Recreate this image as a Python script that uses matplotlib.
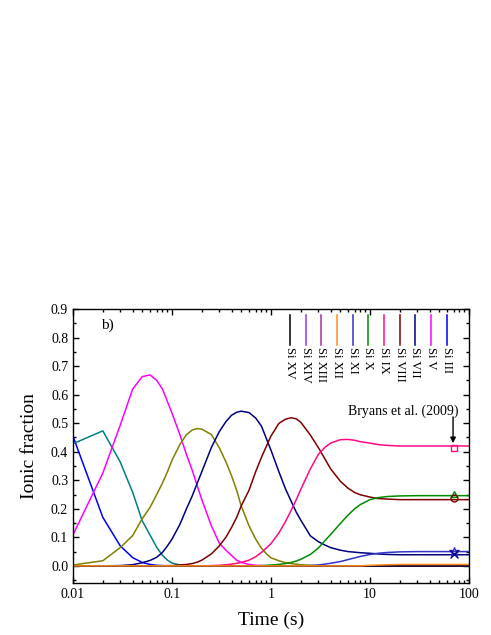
"""
Si 离子丰度随时间演化图 (panel b)，对照 Bryans et al. (2009) 平衡值。
"""

import matplotlib
matplotlib.use("Agg")
import matplotlib.pyplot as plt
from matplotlib.ticker import MultipleLocator, LogLocator, NullFormatter, FixedLocator, FixedFormatter

plt.rcParams["font.family"] = ["Liberation Serif", "DejaVu Serif"]

# ── 数据 ──────────────────────────────────────────────
time_s = [0.01, 0.02, 0.03, 0.04, 0.05, 0.06, 0.07, 0.08, 0.09, 0.10,
          0.12, 0.14, 0.16, 0.18, 0.20, 0.25, 0.30, 0.35, 0.40, 0.45, 0.50, 0.60, 0.70, 0.80, 0.90,
          1.0, 1.2, 1.4, 1.6, 1.8, 2.0, 2.5, 3.0, 3.5, 4.0, 5.0, 6.0, 7.0, 8.0,
          10, 12, 15, 20, 30, 50, 70, 100]

si3 = [0.454, 0.170, 0.070, 0.029, 0.012, 0.005, 0.002, 0.001, 0, 0,
       0, 0, 0, 0, 0, 0, 0, 0, 0, 0, 0, 0, 0, 0, 0,
       0, 0, 0, 0, 0, 0, 0, 0, 0, 0, 0, 0, 0, 0,
       0, 0, 0, 0, 0, 0, 0, 0]
si4 = [0.428, 0.473, 0.364, 0.258, 0.158, 0.108, 0.065, 0.037, 0.020, 0.010,
       0.003, 0.001, 0, 0, 0, 0, 0, 0, 0, 0, 0, 0, 0, 0, 0,
       0, 0, 0, 0, 0, 0, 0, 0, 0, 0, 0, 0, 0, 0,
       0, 0, 0, 0, 0, 0, 0, 0]
si5 = [0.109, 0.325, 0.493, 0.619, 0.663, 0.669, 0.650, 0.620, 0.575, 0.535,
       0.460, 0.390, 0.335, 0.280, 0.232, 0.140, 0.080, 0.055, 0.036, 0.020, 0.012, 0.005, 0.002, 0.001, 0,
       0, 0, 0, 0, 0, 0, 0, 0, 0, 0, 0, 0, 0, 0,
       0, 0, 0, 0, 0, 0, 0, 0]
si6 = [0.003, 0.018, 0.064, 0.106, 0.165, 0.205, 0.250, 0.290, 0.330, 0.370,
       0.425, 0.460, 0.476, 0.481, 0.479, 0.460, 0.414, 0.365, 0.315, 0.265, 0.210, 0.140, 0.094, 0.062, 0.042,
       0.028, 0.018, 0.011, 0.008, 0.006, 0.004, 0.002, 0.001, 0, 0, 0, 0, 0, 0,
       0, 0, 0, 0, 0, 0, 0, 0]
si7 = [0, 0, 0.001, 0.004, 0.011, 0.019, 0.030, 0.047, 0.070, 0.094,
       0.145, 0.200, 0.245, 0.290, 0.330, 0.415, 0.470, 0.505, 0.528, 0.538, 0.542, 0.537, 0.518, 0.490, 0.445,
       0.405, 0.330, 0.270, 0.226, 0.188, 0.160, 0.105, 0.085, 0.073, 0.064, 0.055, 0.050, 0.048, 0.046,
       0.044, 0.042, 0.040, 0.039, 0.039, 0.039, 0.039, 0.039]
si8 = [0, 0, 0, 0, 0, 0, 0, 0, 0.001, 0.001,
       0.003, 0.005, 0.008, 0.013, 0.020, 0.042, 0.070, 0.100, 0.135, 0.170, 0.210, 0.265, 0.330, 0.380, 0.420,
       0.455, 0.499, 0.514, 0.519, 0.515, 0.503, 0.458, 0.415, 0.375, 0.340, 0.297, 0.272, 0.257, 0.249,
       0.241, 0.236, 0.234, 0.232, 0.232, 0.232, 0.232, 0.232]
si9 = [0, 0, 0, 0, 0, 0, 0, 0, 0, 0,
       0, 0, 0, 0, 0, 0.001, 0.002, 0.004, 0.006, 0.009, 0.012, 0.020, 0.032, 0.047, 0.063,
       0.078, 0.115, 0.155, 0.195, 0.232, 0.268, 0.340, 0.390, 0.415, 0.430, 0.442, 0.443, 0.440, 0.435,
       0.430, 0.425, 0.422, 0.420, 0.420, 0.420, 0.420, 0.420]
si10 = [0, 0, 0, 0, 0, 0, 0, 0, 0, 0,
        0, 0, 0, 0, 0, 0, 0, 0, 0, 0, 0, 0, 0, 0.001, 0.002,
        0.003, 0.005, 0.008, 0.012, 0.017, 0.023, 0.040, 0.062, 0.088, 0.110, 0.148, 0.178, 0.200, 0.215,
        0.232, 0.239, 0.243, 0.245, 0.246, 0.246, 0.246, 0.246]
si11 = [0, 0, 0, 0, 0, 0, 0, 0, 0, 0,
        0, 0, 0, 0, 0, 0, 0, 0, 0, 0, 0, 0, 0, 0, 0,
        0, 0, 0, 0, 0, 0, 0.001, 0.003, 0.006, 0.009, 0.015, 0.022, 0.028, 0.033,
        0.040, 0.044, 0.047, 0.049, 0.050, 0.050, 0.050, 0.050]
si12 = [0, 0, 0, 0, 0, 0, 0, 0, 0, 0,
        0, 0, 0, 0, 0, 0, 0, 0, 0, 0, 0, 0, 0, 0, 0,
        0, 0, 0, 0, 0, 0, 0, 0, 0, 0, 0, 0, 0, 0,
        0.002, 0.003, 0.004, 0.005, 0.005, 0.005, 0.005, 0.005]
si_zero = [0] * len(time_s)   # Si XIII / XIV / XV 全程为 0

# Bryans et al. (2009) 平衡值，t = 70 s 处
bryans_t = 70
bryans_ions = ["Si IX", "Si X", "Si VIII", "Si XI", "Si VII"]
bryans_vals = [0.414, 0.252, 0.237, 0.050, 0.040]

x_ticks = [0.01, 0.1, 1, 10, 100]
x_tick_labels = ["0.01", "0.1", "1", "10", "100"]

# ── 配色 ──────────────────────────────────────────────
COLORS = {
    "Si III": "#0000ff", "Si IV": "#008080", "Si V": "#ff00ff",
    "Si VI": "#808000", "Si VII": "#000080", "Si VIII": "#800000",
    "Si IX": "#ff0a84", "Si X": "#008c00", "Si XI": "#3232c8",
    "Si XII": "#ff8c1a", "Si XIII": "#a030a0", "Si XIV": "#9933ff",
    "Si XV": "#000000",
}
MARKERS = {"Si IX": "s", "Si X": "^", "Si VIII": "o", "Si XI": "*", "Si VII": "x"}

series = [
    ("Si III", si3), ("Si IV", si4), ("Si V", si5), ("Si VI", si6),
    ("Si VII", si7), ("Si VIII", si8), ("Si IX", si9), ("Si X", si10),
    ("Si XI", si11), ("Si XIII", si_zero), ("Si XIV", si_zero),
    ("Si XV", si_zero), ("Si XII", si12),
]
legend_order = ["Si XV", "Si XIV", "Si XIII", "Si XII", "Si XI", "Si X",
                "Si IX", "Si VIII", "Si VII", "Si V", "Si III"]

fig = plt.figure(figsize=(4.91, 6.35), dpi=100, facecolor="white")
ax = fig.add_axes([0.1487, 0.0819, 0.8065, 0.4315])

for name, vals in series:
    ax.plot(time_s, vals, color=COLORS[name], lw=1.1)

for name, v in zip(bryans_ions, bryans_vals):
    m = MARKERS[name]
    if m == "x":
        ax.plot(bryans_t, v, m, color=COLORS[name], ms=5.5, mew=1.0)
    else:
        ax.plot(bryans_t, v, m, mfc="none", mec=COLORS[name],
                ms=7 if m == "*" else 5, mew=1.0)

ax.set_xscale("log")
ax.set_xlim(0.01, 100)
ax.set_ylim(-0.06, 0.9)
ax.xaxis.set_major_locator(FixedLocator(x_ticks))
ax.xaxis.set_major_formatter(FixedFormatter(x_tick_labels))
ax.xaxis.set_minor_locator(LogLocator(base=10, subs=range(2, 10)))
ax.xaxis.set_minor_formatter(NullFormatter())
ax.yaxis.set_major_locator(MultipleLocator(0.1))
ax.yaxis.set_minor_locator(MultipleLocator(0.05))
ax.yaxis.set_major_formatter(plt.FuncFormatter(lambda v, _: f"{v:.1f}"))

ax.tick_params(which="both", direction="in", top=True, right=True,
               labelsize=10, width=1.0)
ax.tick_params(which="major", length=4)
ax.tick_params(which="minor", length=2.2)
for s in ax.spines.values():
    s.set_linewidth(1.0)

ax.set_xlabel("Time (s)", fontsize=14, labelpad=7.5)
ax.set_ylabel("Ionic fraction", fontsize=14, labelpad=9)

ax.text(0.088, 0.942, "b)", transform=ax.transAxes, fontsize=11,
        ha="center", va="center")

# 竖排图例
x0, dx = 0.548, 0.0396
for i, name in enumerate(legend_order):
    xx = x0 + i * dx
    ax.plot([xx, xx], [0.978, 0.869], color=COLORS[name], lw=1.1,
            transform=ax.transAxes, clip_on=False)
    ax.text(xx, 0.862, name, transform=ax.transAxes, rotation=270,
            fontsize=9, ha="center", va="top")

ax.text(21.5, 0.542, "Bryans et al. (2009)", fontsize=10, ha="center", va="center")
ax.annotate("", xy=(69, 0.430), xytext=(69, 0.522),
            arrowprops=dict(arrowstyle="-|>", color="black", lw=1.0,
                            mutation_scale=8, shrinkA=0, shrinkB=0))

fig.savefig("out.png", dpi=100, facecolor="white")
